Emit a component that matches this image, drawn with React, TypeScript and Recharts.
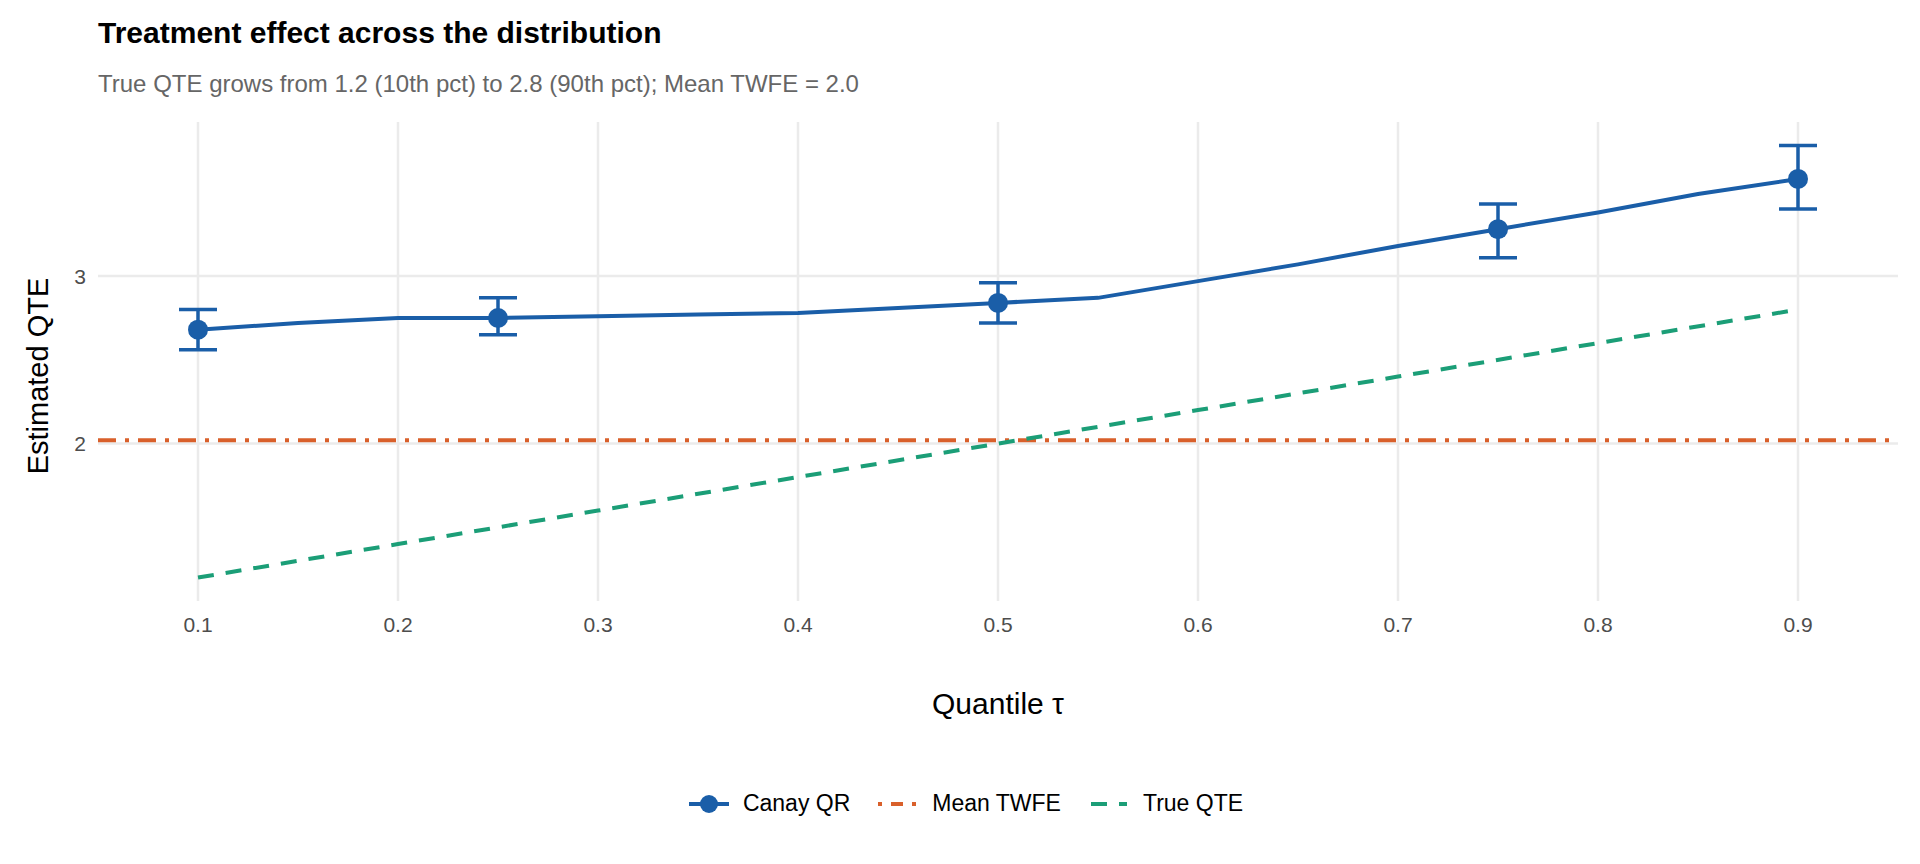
import {
  ComposedChart,
  Line,
  Scatter,
  ErrorBar,
  XAxis,
  YAxis,
  CartesianGrid,
  ReferenceLine,
} from "recharts";

const TAUS = [0.1, 0.15, 0.2, 0.25, 0.3, 0.35, 0.4, 0.45, 0.5, 0.55, 0.6, 0.65, 0.7, 0.75, 0.8, 0.85, 0.9];
const CANAY = [2.68, 2.72, 2.75, 2.75, 2.76, 2.77, 2.78, 2.81, 2.84, 2.87, 2.97, 3.07, 3.18, 3.28, 3.38, 3.49, 3.58];
const POINT_TAUS = [0.1, 0.25, 0.5, 0.75, 0.9];
const POINT_EST = [2.68, 2.75, 2.84, 3.28, 3.58];
const POINT_LO = [2.56, 2.65, 2.72, 3.11, 3.4];
const POINT_HI = [2.8, 2.87, 2.96, 3.43, 3.78];
const TRUE_TAUS = [0.1, 0.2, 0.3, 0.4, 0.5, 0.6, 0.7, 0.8, 0.9];
const TRUE_QTE = [1.2, 1.4, 1.6, 1.8, 2.0, 2.2, 2.4, 2.6, 2.8];
const MEAN_TWFE = 2.02;
const X_TICKS = [0.1, 0.2, 0.3, 0.4, 0.5, 0.6, 0.7, 0.8, 0.9];
const Y_TICKS = [2, 3];

const BLUE = "#1a5ea8";
const ORANGE = "#d9602b";
const GREEN = "#1b9e77";
const FONT = "'Liberation Sans', Arial, sans-serif";

const canayData = TAUS.map((t, i) => ({ t, v: CANAY[i] }));
const pointData = POINT_TAUS.map((t, i) => ({
  t,
  v: POINT_EST[i],
  err: [POINT_EST[i] - POINT_LO[i], POINT_HI[i] - POINT_EST[i]],
}));
const trueData = TRUE_TAUS.map((t, i) => ({ t, v: TRUE_QTE[i] }));

function LegendKey({ kind }: { kind: string }) {
  return (
    <svg width={44} height={24} style={{ marginRight: 12 }}>
      {kind === "canay" && (
        <>
          <line x1={2} x2={42} y1={12} y2={12} stroke={BLUE} strokeWidth={4} />
          <circle cx={22} cy={12} r={9} fill={BLUE} />
        </>
      )}
      {kind === "twfe" && (
        <line x1={2} x2={42} y1={12} y2={12} stroke={ORANGE} strokeWidth={4} strokeDasharray="4 9 12 9" />
      )}
      {kind === "true" && (
        <line x1={4} x2={40} y1={12} y2={12} stroke={GREEN} strokeWidth={4} strokeDasharray="16 12" />
      )}
    </svg>
  );
}

export default function App() {
  const tick = { fontSize: 21, fill: "#4d4d4d", fontFamily: FONT };
  return (
    <div style={{ position: "fixed", left: 0, top: 0, width: 1920, height: 864, background: "#fff", fontFamily: FONT }}>
      <div style={{ position: "absolute", left: 98, top: 16, fontSize: 30, fontWeight: "bold", color: "#000" }}>
        Treatment effect across the distribution
      </div>
      <div style={{ position: "absolute", left: 98, top: 70, fontSize: 24, color: "#666" }}>
        True QTE grows from 1.2 (10th pct) to 2.8 (90th pct); Mean TWFE = 2.0
      </div>
      <div
        style={{
          position: "absolute",
          left: 38,
          top: 376,
          fontSize: 29,
          color: "#000",
          transform: "translate(-50%, -50%) rotate(-90deg)",
          whiteSpace: "nowrap",
        }}
      >
        Estimated QTE
      </div>
      <div style={{ position: "absolute", left: 998, top: 704, fontSize: 30, color: "#000", transform: "translate(-50%, -50%)" }}>
        Quantile τ
      </div>
      <ComposedChart
        width={1920}
        height={864}
        margin={{ top: 122, right: 22, left: 38, bottom: 233 }}
        style={{ position: "absolute", left: 0, top: 0 }}
      >
        <CartesianGrid stroke="#ebebeb" strokeWidth={2.5} horizontalValues={Y_TICKS} verticalValues={X_TICKS} />
        <XAxis
          dataKey="t"
          type="number"
          domain={[0.05, 0.95]}
          ticks={X_TICKS}
          tickFormatter={(v) => v.toFixed(1)}
          tick={tick}
          tickLine={false}
          axisLine={false}
          tickMargin={10}
          allowDuplicatedCategory={false}
        />
        <YAxis
          type="number"
          domain={[1.06, 3.92]}
          ticks={Y_TICKS}
          tick={tick}
          tickLine={false}
          axisLine={false}
          width={60}
          tickMargin={6}
          allowDataOverflow
        />
        <ReferenceLine y={MEAN_TWFE} stroke={ORANGE} strokeWidth={4} strokeDasharray="18 9 4 9" />
        <Line
          data={trueData}
          dataKey="v"
          stroke={GREEN}
          strokeWidth={4}
          strokeDasharray="16 12"
          dot={false}
          type="linear"
          isAnimationActive={false}
        />
        <Line
          data={canayData}
          dataKey="v"
          stroke={BLUE}
          strokeWidth={4}
          dot={false}
          type="linear"
          isAnimationActive={false}
        />
        <Scatter data={pointData} dataKey="v" fill={BLUE} shape={(p: any) => <circle cx={p.cx} cy={p.cy} r={10} fill={BLUE} />} isAnimationActive={false}>
          <ErrorBar dataKey="err" direction="y" width={19} stroke={BLUE} strokeWidth={3.5} />
        </Scatter>
      </ComposedChart>
      <div
        style={{
          position: "absolute",
          top: 790,
          left: 0,
          width: 1920,
          display: "flex",
          justifyContent: "center",
          alignItems: "center",
          fontSize: 23,
          color: "#000",
          paddingLeft: 10,
          boxSizing: "border-box",
        }}
      >
        <LegendKey kind="canay" />
        <span style={{ marginRight: 26 }}>Canay QR</span>
        <LegendKey kind="twfe" />
        <span style={{ marginRight: 26 }}>Mean TWFE</span>
        <LegendKey kind="true" />
        <span>True QTE</span>
      </div>
    </div>
  );
}
